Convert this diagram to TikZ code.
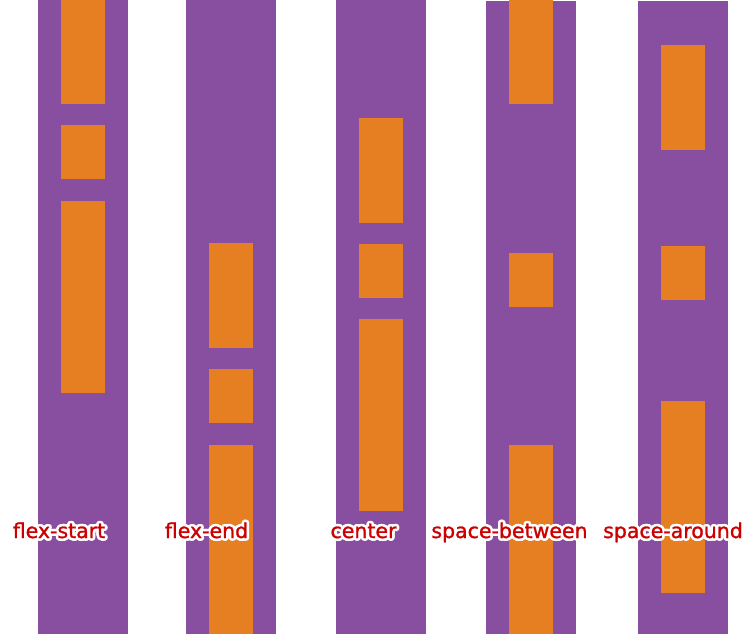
\documentclass[tikz,border=0pt]{standalone}
\usepackage{fontspec}
\setmainfont{DejaVu Sans}
\newfontfamily\labelfont[FakeBold=1.2]{DejaVu Sans}
\definecolor{boxpurple}{HTML}{884EA0}
\definecolor{boxorange}{HTML}{E67E22}
\definecolor{labelred}{HTML}{CC0000}
\tikzset{
  colbox/.style={fill=boxpurple, draw=none},
  itembox/.style={fill=boxorange, draw=none},
  lbl/.style={font=\labelfont\fontsize{20.5}{21}\selectfont, inner sep=0pt, anchor=base},
}
\newcommand{\outlinedlabel}[3]{%
  \foreach \ang in {0,22.5,...,359} {
    \node[lbl, text=white] at ([shift={(\ang:2.6)}]#1) {#3};
  }
  \node[lbl, text=labelred] (#2) at (#1) {#3};
}
\begin{document}
\begin{tikzpicture}[x=1pt,y=-1pt]
\useasboundingbox (0,0) rectangle (751,634);
\fill[white] (0,0) rectangle (751,634);
% columns
\path[colbox] (38,0) rectangle (128,634);
\path[colbox] (186,0) rectangle (276,634);
\path[colbox] (336,0) rectangle (426,634);
\path[colbox] (486,1) rectangle (576,634);
\path[colbox] (638,1) rectangle (728,634);
% flex-start
\path[itembox] (61,0) rectangle (105,104);
\path[itembox] (61,125) rectangle (105,179);
\path[itembox] (61,201) rectangle (105,393);
% flex-end
\path[itembox] (209,243) rectangle (253,348);
\path[itembox] (209,369) rectangle (253,423);
\path[itembox] (209,445) rectangle (253,634);
% center
\path[itembox] (359,118) rectangle (403,223);
\path[itembox] (359,244) rectangle (403,298);
\path[itembox] (359,319) rectangle (403,511);
% space-between
\path[itembox] (509,0) rectangle (553,104);
\path[itembox] (509,253) rectangle (553,307);
\path[itembox] (509,445) rectangle (553,634);
% space-around
\path[itembox] (661,45) rectangle (705,150);
\path[itembox] (661,246) rectangle (705,300);
\path[itembox] (661,401) rectangle (705,593);
% labels
\coordinate (p1) at (59,538);
\coordinate (p2) at (206.5,538);
\coordinate (p3) at (363.5,538);
\coordinate (p4) at (509.5,538);
\coordinate (p5) at (673,538);
\outlinedlabel{p1}{l1}{flex-start}
\outlinedlabel{p2}{l2}{flex-end}
\outlinedlabel{p3}{l3}{center}
\outlinedlabel{p4}{l4}{space-between}
\outlinedlabel{p5}{l5}{space-around}
\end{tikzpicture}
\end{document}
